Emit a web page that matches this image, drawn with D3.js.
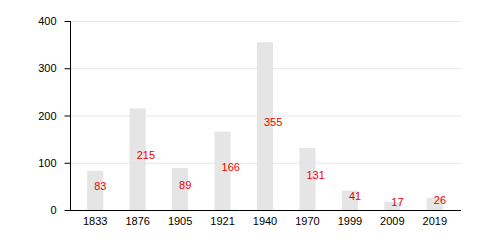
<!DOCTYPE html>
<html>
<head>
<meta charset="utf-8">
<script src="https://cdn.jsdelivr.net/npm/d3@7"></script>
<style>
	body { margin: 0; background: #fff; }
	svg { display: block; font-family: "Liberation Sans", Arial, sans-serif; }
</style>
</head>
<body>
<div id="chart"></div>
<script>
const years = ['1833', '1876', '1905', '1921', '1940', '1970', '1999', '2009', '2019'];
const population = [83, 215, 89, 166, 355, 131, 41, 17, 26];
const yTicks = [0, 100, 200, 300, 400];

const width = 500;
const height = 250;

const svg = d3.select('#chart').append('svg').attr('width', width).attr('height', height);

const x = d3.scaleBand().domain(years).range([74, 456]).paddingInner(0.62).paddingOuter(0.31);
const y = d3.scaleLinear().domain([0, 400]).range([210, 21]);

// grid
svg.append('g')
	.selectAll('line')
	.data(yTicks.slice(1))
	.enter()
	.append('line')
	.attr('x1', 70)
	.attr('x2', 461)
	.attr('y1', d => y(d) + 0.5)
	.attr('y2', d => y(d) + 0.5)
	.attr('stroke', '#e6e6e6');

// bars
svg.append('g')
	.selectAll('rect')
	.data(population)
	.enter()
	.append('rect')
	.attr('x', (d, i) => x(years[i]))
	.attr('y', d => y(d))
	.attr('width', x.bandwidth())
	.attr('height', d => y(0) - y(d))
	.attr('fill', '#e5e5e5');

// value labels
svg.append('g')
	.selectAll('text')
	.data(population)
	.enter()
	.append('text')
	.attr('x', (d, i) => x(years[i]) + x.bandwidth() / 2 - 1)
	.attr('y', d => y(d / 2) - 3)
	.attr('dominant-baseline', 'middle')
	.attr('font-size', 11)
	.attr('fill', '#ee0000')
	.text(d => d);

// y axis
const yAxis = svg.append('g')
	.attr('transform', 'translate(70.5,0)')
	.call(d3.axisLeft(y).tickValues(yTicks).tickSize(6).tickPadding(8));
yAxis.select('.domain').attr('d', `M0,${y(400)}V${y(0)}`).attr('stroke', '#000');
yAxis.selectAll('text').attr('font-size', 11).attr('font-family', 'Liberation Sans, Arial, sans-serif').attr('fill', '#000');

// x axis
const xAxis = svg.append('g')
	.attr('transform', `translate(0,${y(0) + 0.5})`)
	.call(d3.axisBottom(x).tickSize(0).tickPadding(7));
xAxis.select('.domain').attr('d', 'M70,0H461').attr('stroke', '#000');
xAxis.selectAll('text').attr('font-size', 11).attr('font-family', 'Liberation Sans, Arial, sans-serif').attr('fill', '#000');
</script>
</body>
</html>
